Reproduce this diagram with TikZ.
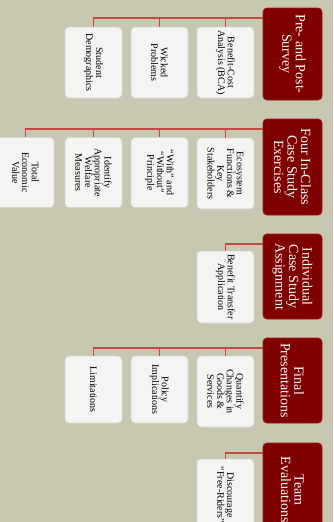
\documentclass[tikz,border=0pt]{standalone}
\usepackage{fontspec}
\setmainfont{Liberation Serif}
\definecolor{bgolive}{RGB}{200,200,178}
\definecolor{hdrred}{RGB}{126,0,0}
\definecolor{hdrline}{RGB}{165,20,20}
\definecolor{linkred}{RGB}{196,72,68}
\definecolor{itemfill}{RGB}{244,244,243}
\definecolor{itemline}{RGB}{214,214,204}

\begin{document}
\begin{tikzpicture}[x=1pt, y=-1pt,
    hdr/.style={rotate=-90, draw=hdrline, line width=0.8pt, fill=hdrred, rounded corners=4pt,
        minimum height=59pt, inner sep=2pt, align=center, text=white,
        font=\fontsize{14}{13.5}\selectfont},
    item/.style={rotate=-90, draw=itemline, line width=0.6pt, fill=itemfill, rounded corners=4pt,
        minimum height=57pt, minimum width=71pt, inner sep=1pt, align=center,
        font=\fontsize{10}{9.8}\selectfont},
    link/.style={draw=linkred, line width=1.3pt}]
    \fill[bgolive] (0,0) rectangle (333,522);
    \useasboundingbox (0,0) rectangle (333,522);

    % Headers
    \node[hdr, minimum width=92pt] (hdr1) at (292.5,54) {Pre- and Post-\\Survey};
    \node[hdr, minimum width=96pt] (hdr2) at (292.5,167) {Four In-Class\\Case Study\\Exercises};
    \node[hdr, minimum width=85pt] (hdr3) at (292.5,276.5) {Individual\\Case Study\\Assignment};
    \node[hdr, minimum width=85pt] (hdr4) at (292.5,380.5) {Final\\Presentations};
    \node[hdr, minimum width=94pt] (hdr5) at (292.5,490) {Team\\Evaluations};

    % Items
    \node[item] (a1) at (225.5,62.5) {Benefit-Cost\\Analysis (BCA)};
    \node[item] (a2) at (159.5,62.5) {Wicked\\Problems};
    \node[item] (a3) at (93.5,62.5) {Student\\Demographics};

    \node[item] (b1) at (225.5,173.5) {Ecosystem\\Functions \&\\Key\\Stakeholders};
    \node[item, minimum width=70pt] (b2) at (159.5,172.5) {“With” and\\“Without”\\Principle};
    \node[item, minimum width=70pt] (b3) at (93.5,172.5) {Identify\\Appropriate\\Welfare\\Measures};
    \node[item, minimum width=70pt] (b4) at (25.5,172.5) {Total\\Economic\\Value};

    \node[item, minimum width=72pt] (c1) at (225.5,287) {Benefit Transfer\\Application};

    \node[item] (d1) at (225.5,391.5) {Quantify\\Changes in\\Goods \&\\Services};
    \node[item, minimum width=67pt] (d2) at (159.5,389.5) {Policy\\Implications};
    \node[item, minimum width=67pt] (d3) at (93.5,389.5) {Limitations};

    \node[item, minimum width=72pt] (e1) at (225.5,495) {Discourage\\“Free-Riders”};

    % Links
    \draw[link] ([yshift=-10.5pt]hdr1.south west) -| (a1.west);
    \draw[link] ([yshift=-10.5pt]hdr1.south west) -| (a2.west);
    \draw[link] ([yshift=-10.5pt]hdr1.south west) -| (a3.west);
    \draw[link] ([yshift=-10.5pt]hdr2.south west) -| (b1.west);
    \draw[link] ([yshift=-10.5pt]hdr2.south west) -| (b2.west);
    \draw[link] ([yshift=-10.5pt]hdr2.south west) -| (b3.west);
    \draw[link] ([yshift=-10.5pt]hdr2.south west) -| (b4.west);
    \draw[link] ([yshift=-10.5pt]hdr3.south west) -| (c1.west);
    \draw[link] ([yshift=-10.5pt]hdr4.south west) -| (d1.west);
    \draw[link] ([yshift=-10.5pt]hdr4.south west) -| (d2.west);
    \draw[link] ([yshift=-10.5pt]hdr4.south west) -| (d3.west);
    \draw[link] ([yshift=-10.5pt]hdr5.south west) -| (e1.west);
\end{tikzpicture}
\end{document}
